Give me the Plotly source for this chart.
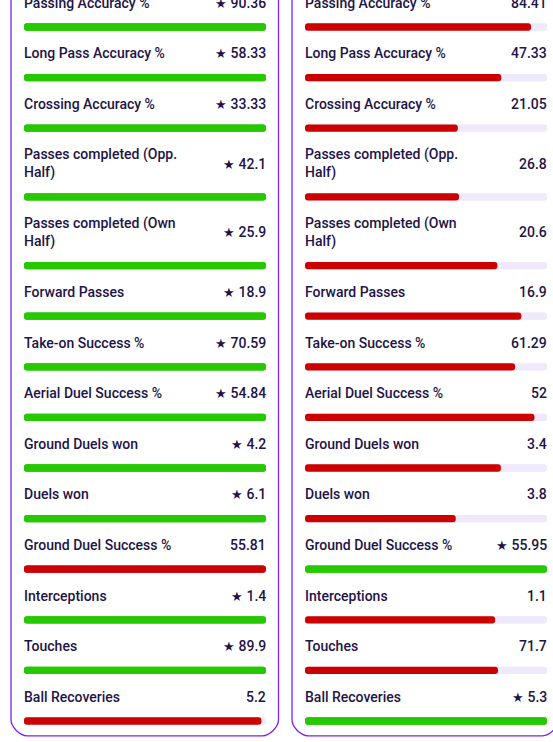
"""Player comparison cards: per-90 stat bars, higher value gets the star."""

import plotly.graph_objects as go

W, H = 553, 742

labels = [
    "Passing Accuracy %",
    "Long Pass Accuracy %",
    "Crossing Accuracy %",
    "Passes completed (Opp.<br>Half)",
    "Passes completed (Own<br>Half)",
    "Forward Passes",
    "Take-on Success %",
    "Aerial Duel Success %",
    "Ground Duels won",
    "Duels won",
    "Ground Duel Success %",
    "Interceptions",
    "Touches",
    "Ball Recoveries",
]
left_vals = [90.36, 58.33, 33.33, 42.1, 25.9, 18.9, 70.59, 54.84, 4.2, 6.1, 55.81, 1.4, 89.9, 5.2]
right_vals = [84.41, 47.33, 21.05, 26.8, 20.6, 16.9, 61.29, 52, 3.4, 3.8, 55.95, 1.1, 71.7, 5.3]

GREEN = "#26c900"
RED = "#cc0000"
TRACK = "#efe9fb"
INK = "#221448"
BORDER = "#7b22f5"
FONT = "Roboto, Noto Sans, sans-serif"

# row geometry (pixels, y grows downward)
FIRST_BAR = 27.0
PITCH = 50.6
EXTRA_LINE = 18.1
BAR_H = 7.3
TEXT_GAP = 24.2

bar_y = []
y = FIRST_BAR
for i, lab in enumerate(labels):
    if i > 0:
        y += PITCH + (EXTRA_LINE if "<br>" in lab else 0)
    bar_y.append(y)

panels = [
    dict(vals=left_vals, other=right_vals, xa="x", dom=(24, 266), box=(11, 278.5)),
    dict(vals=right_vals, other=left_vals, xa="x2", dom=(305, 547), box=(292, 558.5)),
]

fig = go.Figure()
annotations = []
shapes = []

for p in panels:
    fracs, colors, stars = [], [], []
    for v, o in zip(p["vals"], p["other"]):
        fracs.append(v / max(v, o))
        colors.append(GREEN if v >= o else RED)
        stars.append(v >= o)
    n = len(fracs)

    # track: two overlapping bars so both ends are rounded
    fig.add_trace(go.Bar(x=[1] * n, y=bar_y, base=0, orientation="h", width=BAR_H,
                         marker=dict(color=TRACK, cornerradius=4, line_width=0),
                         xaxis=p["xa"], yaxis="y", hoverinfo="skip"))
    fig.add_trace(go.Bar(x=[-1] * n, y=bar_y, base=1, orientation="h", width=BAR_H,
                         marker=dict(color=TRACK, cornerradius=4, line_width=0),
                         xaxis=p["xa"], yaxis="y", hoverinfo="skip"))
    # fill: rounded on the left, square on the right
    fig.add_trace(go.Bar(x=[-f for f in fracs], y=bar_y, base=fracs, orientation="h", width=BAR_H,
                         marker=dict(color=colors, cornerradius=4, line_width=0),
                         xaxis=p["xa"], yaxis="y", hoverinfo="skip"))
    # full bars are clipped by the rounded track
    full = [i for i, f in enumerate(fracs) if f > 0.99]
    fig.add_trace(go.Bar(x=[1] * len(full), y=[bar_y[i] for i in full], base=0, orientation="h",
                         width=BAR_H,
                         marker=dict(color=[colors[i] for i in full], cornerradius=4, line_width=0),
                         xaxis=p["xa"], yaxis="y", hoverinfo="skip"))

    for lab, v, yb, star in zip(labels, p["vals"], bar_y, stars):
        two = "<br>" in lab
        ty = yb - TEXT_GAP - (EXTRA_LINE / 2 if two else 0)
        annotations.append(dict(x=0, y=ty, xref=p["xa"], yref="y", text=lab, showarrow=False,
                                xanchor="left", yanchor="middle", align="left", xshift=-2,
                                font=dict(family=FONT, size=14, color=INK, weight=500)))
        val = f"{v:g}"
        if star:
            val = "<span style='font-size:13px'>★</span> " + val
        annotations.append(dict(x=1, y=ty, xref=p["xa"], yref="y", text=val, showarrow=False,
                                xanchor="right", yanchor="middle", align="right", xshift=2,
                                font=dict(family=FONT, size=14, color=INK, weight=500)))

    # card outline, top runs off the page
    x0, x1 = p["box"][0] / W, p["box"][1] / W
    r, k = 16.0, 16.0 * 0.45
    bot = 735.8
    path = (
        f"M {x0},-30 V {bot - r} "
        f"C {x0},{bot - r + k} {x0 + (r - k) / W},{bot} {x0 + r / W},{bot} "
        f"H {x1 - r / W} "
        f"C {x1 - (r - k) / W},{bot} {x1},{bot - r + k} {x1},{bot - r} "
        f"V -30"
    )
    shapes.append(dict(type="path", path=path, xref="paper", yref="y",
                       line=dict(color=BORDER, width=1.3), layer="below"))

fig.update_layout(
    width=W,
    height=H,
    margin=dict(l=0, r=0, t=0, b=0),
    paper_bgcolor="white",
    plot_bgcolor="white",
    barmode="overlay",
    showlegend=False,
    hovermode=False,
    xaxis=dict(domain=[24 / W, 266 / W], range=[0, 1], visible=False, fixedrange=True),
    xaxis2=dict(domain=[305 / W, 547 / W], range=[0, 1], visible=False, anchor="y", fixedrange=True),
    yaxis=dict(domain=[0, 1], range=[H, 0], visible=False, fixedrange=True),
    annotations=annotations,
    shapes=shapes,
)

# the page's default body margin would push the figure 8px in
fig.write_html("out.html", config={"displayModeBar": False},
               post_script="document.body.style.margin='0';")
